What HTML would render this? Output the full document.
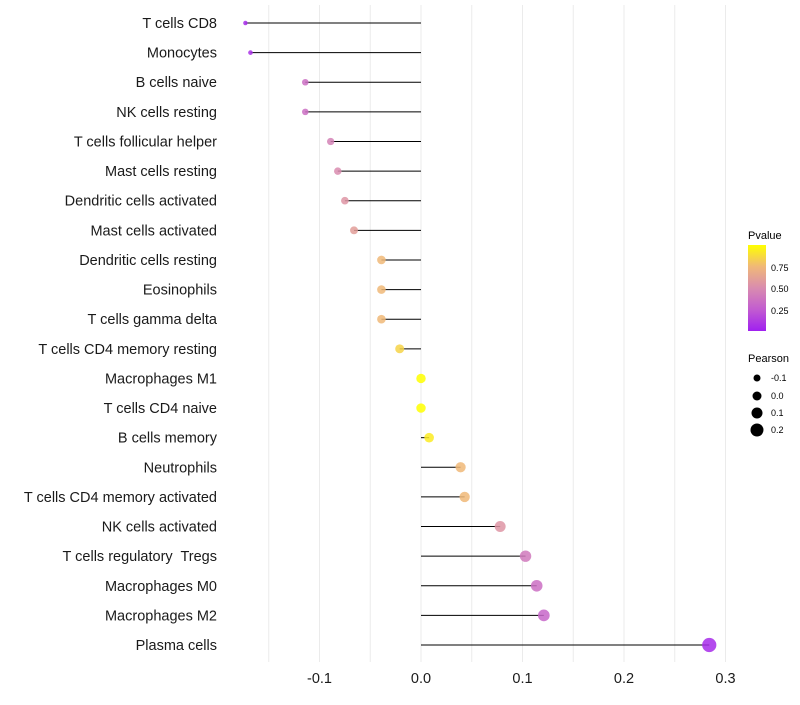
<!DOCTYPE html>
<html><head><meta charset="utf-8"><style>
body{margin:0;background:#fff;font-family:"Liberation Sans",sans-serif;}
svg text{font-family:"Liberation Sans",sans-serif;}
</style></head><body>
<svg id="c" width="800" height="700">
<defs><linearGradient id="pg" x1="0" y1="1" x2="0" y2="0">
<stop offset="0" stop-color="#a020f0"/><stop offset="0.25" stop-color="#c25cd0"/><stop offset="0.5" stop-color="#d98caf"/><stop offset="0.75" stop-color="#f0b878"/><stop offset="1" stop-color="#ffff00"/></linearGradient></defs>
<g id="grid"></g><g id="marks"></g><g id="labels"></g><g id="xaxis"></g>
<g>
<text x="748" y="239" font-size="11">Pvalue</text>
<rect x="748" y="245" width="18" height="86" fill="url(#pg)"/>
<text x="771" y="271" font-size="9">0.75</text>
<text x="771" y="292" font-size="9">0.50</text>
<text x="771" y="314" font-size="9">0.25</text>
</g>
<g>
<text x="748" y="362" font-size="11">Pearson</text>
<circle cx="757" cy="378" r="3.5"/><text x="771" y="381" font-size="9">-0.1</text>
<circle cx="757" cy="396" r="4.5"/><text x="771" y="399" font-size="9">0.0</text>
<circle cx="757" cy="413" r="5.5"/><text x="771" y="416" font-size="9">0.1</text>
<circle cx="757" cy="430" r="6.5"/><text x="771" y="433" font-size="9">0.2</text>
</g>
</svg>
<script>
const cells=["T cells CD8","Monocytes","B cells naive","NK cells resting","T cells follicular helper","Mast cells resting","Dendritic cells activated","Mast cells activated","Dendritic cells resting","Eosinophils","T cells gamma delta","T cells CD4 memory resting","Macrophages M1","T cells CD4 naive","B cells memory","Neutrophils","T cells CD4 memory activated","NK cells activated","T cells regulatory  Tregs","Macrophages M0","Macrophages M2","Plasma cells"];
const pearson=[-0.173,-0.168,-0.114,-0.114,-0.089,-0.082,-0.075,-0.066,-0.039,-0.039,-0.039,-0.021,0.0,0.0,0.008,0.039,0.043,0.078,0.103,0.114,0.121,0.284];
const pvalue=[0.05,0.07,0.35,0.35,0.45,0.5,0.55,0.6,0.75,0.75,0.75,0.85,1.0,1.0,0.93,0.75,0.75,0.55,0.4,0.35,0.3,0.05];
const xticks=[-0.1,0.0,0.1,0.2,0.3];
const NS="http://www.w3.org/2000/svg";
const x=v=>421+v*1015;
const y=i=>23+i*29.62;
function el(t,a,p){const e=document.createElementNS(NS,t);for(const k in a)e.setAttribute(k,a[k]);document.getElementById(p).appendChild(e);return e;}
const stops=[[0,[160,32,240]],[0.25,[194,92,208]],[0.5,[217,140,175]],[0.75,[240,184,120]],[1,[255,255,0]]];
function col(p){for(let i=1;i<stops.length;i++){if(p<=stops[i][0]){const a=stops[i-1],b=stops[i],t=(p-a[0])/(b[0]-a[0]);return 'rgb('+a[1].map((c,j)=>Math.round(c+(b[1][j]-c)*t)).join(',')+')';}}return 'rgb(255,255,0)';}
for(let v=-0.15;v<=0.31;v+=0.05){const g=el('line',{x1:x(v),x2:x(v),y1:5,y2:662,stroke:'#ebebeb','stroke-width':1},'grid');

}
cells.forEach((c,i)=>{
const l=el('line',{x1:x(0),x2:x(pearson[i]),y1:y(i),y2:y(i),stroke:'#000','stroke-width':1},'marks');


const r=Math.sqrt(Math.max(4,22.25+100*pearson[i]));
const d=el('circle',{cx:x(pearson[i]),cy:y(i),r:r,fill:col(pvalue[i]),'fill-opacity':0.85},'marks');


const t=el('text',{x:217,y:y(i)+5,'text-anchor':'end','font-size':14.5,fill:'#1a1a1a'},'labels');
t.setAttribute('xml:space','preserve');
t.style.whiteSpace='pre';
t.textContent=c;


});
xticks.forEach(v=>{const t=el('text',{x:x(v),y:683,'text-anchor':'middle','font-size':14.5,fill:'#1a1a1a'},'xaxis');
t.textContent=v.toFixed(1);

});
</script>
</body></html>
